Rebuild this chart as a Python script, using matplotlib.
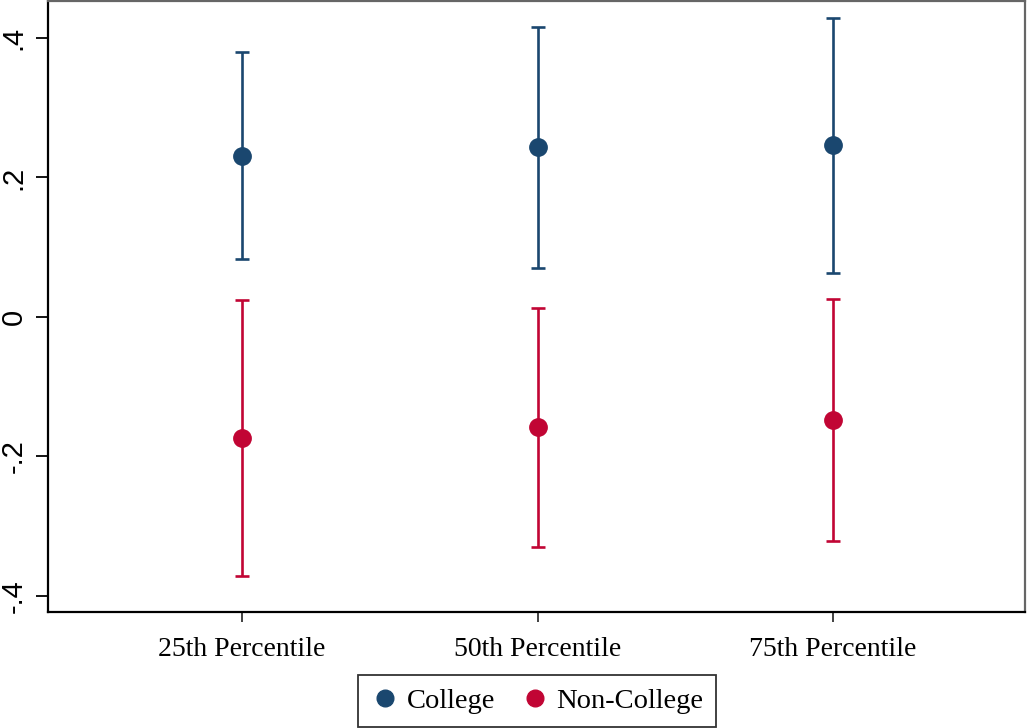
import numpy as np
import matplotlib
matplotlib.use("Agg")
import matplotlib.pyplot as plt
from matplotlib.lines import Line2D

# Values
groups = ["25th Percentile", "50th Percentile", "75th Percentile"]
college_est = [0.231, 0.243, 0.246]
college_lo = [0.083, 0.070, 0.063]
college_hi = [0.380, 0.416, 0.429]
noncollege_est = [-0.174, -0.158, -0.148]
noncollege_lo = [-0.371, -0.330, -0.321]
noncollege_hi = [0.024, 0.013, 0.026]
ytick_vals = [-0.4, -0.2, 0.0, 0.2, 0.4]
ytick_labels = ["-.4", "-.2", "0", ".2", ".4"]

navy = "#1a476f"
cranberry = "#c10534"

plt.rcParams["font.family"] = ["Liberation Serif", "DejaVu Serif"]

fig = plt.figure(figsize=(10.29, 7.28), dpi=100)
ax = fig.add_axes([0.0466, 0.1593, 0.9495, 0.8393])

x = np.arange(1, len(groups) + 1)


def draw(est, lo, hi, color):
    est = np.array(est)
    err = np.vstack([est - np.array(lo), np.array(hi) - est])
    ax.errorbar(x, est, yerr=err, fmt="o", color=color, ecolor=color,
                markersize=12.5, elinewidth=1.9, capsize=5, capthick=1.9,
                zorder=3)


draw(college_est, college_lo, college_hi, navy)
draw(noncollege_est, noncollege_lo, noncollege_hi, cranberry)

ax.set_xlim(0.343, 3.65)
ax.set_ylim(-0.423, 0.453)
ax.set_xticks(x)
ax.set_xticklabels(groups, fontsize=20)
ax.set_yticks(ytick_vals)
ax.set_yticklabels(ytick_labels, fontsize=21, rotation=90, va="center",
                   family=["Liberation Sans", "DejaVu Sans"])
ax.tick_params(axis="y", length=8.5, width=1.3, pad=6)
ax.tick_params(axis="x", length=7, width=1.3, pad=11, colors="#333333",
               labelcolor="black")

for side in ["left", "bottom"]:
    ax.spines[side].set_color("black")
    ax.spines[side].set_linewidth(1.6)
for side in ["top", "right"]:
    ax.spines[side].set_color("#666666")
    ax.spines[side].set_linewidth(1.6)

handles = [
    Line2D([], [], marker="o", linestyle="none", color=navy, markersize=12),
    Line2D([], [], marker="o", linestyle="none", color=cranberry, markersize=12),
]
leg = fig.legend(handles, ["College", "Non-College"], loc="center",
                 bbox_to_anchor=(537 / 1029, (728 - 701) / 728), ncol=2,
                 fontsize=20.5, frameon=True, fancybox=False, handletextpad=0.25,
                 columnspacing=0.9, borderpad=0.45, handlelength=1.0,
                 borderaxespad=0)
leg.get_frame().set_edgecolor("black")
leg.get_frame().set_linewidth(1.3)

fig.savefig("out.png", dpi=100)
